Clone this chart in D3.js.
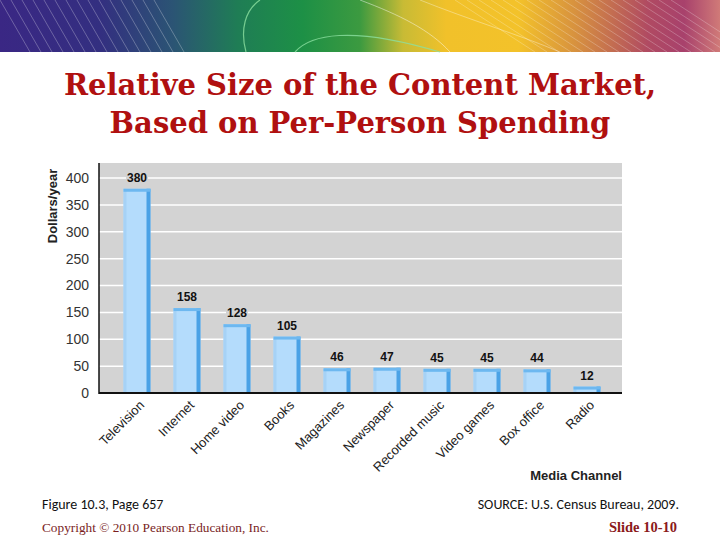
<!DOCTYPE html>
<html>
<head>
<meta charset="utf-8">
<script src="https://cdn.jsdelivr.net/npm/d3@7"></script>
<style>
  html, body { margin: 0; padding: 0; background: #fff; }
  svg { display: block; }
</style>
</head>
<body>
<svg id="chart" width="720" height="540"></svg>
<script>
const categories = ["Television", "Internet", "Home video", "Books", "Magazines",
  "Newspaper", "Recorded music", "Video games", "Box office", "Radio"];
const values = [380, 158, 128, 105, 46, 47, 45, 45, 44, 12];
const yTicks = [0, 50, 100, 150, 200, 250, 300, 350, 400];
const titleLines = ["Relative Size of the Content Market,", "Based on Per-Person Spending"];

const svg = d3.select("#chart");

// ---- decorative banner ----
const defs = svg.append("defs");
const grad = defs.append("linearGradient").attr("id", "banner").attr("x1", 0).attr("x2", 1).attr("y1", 0).attr("y2", 0);
[[0, "#3a2784"], [0.14, "#332f80"], [0.24, "#2b5474"], [0.33, "#1f7d55"], [0.42, "#1d9046"],
 [0.5, "#3c9a40"], [0.56, "#c8bb35"], [0.62, "#f1c12a"], [0.72, "#f3c22a"], [0.8, "#d7913f"],
 [0.9, "#b04a62"], [0.95, "#a8416c"], [1, "#d07a78"]].forEach(([o, c]) =>
  grad.append("stop").attr("offset", o).attr("stop-color", c));
svg.append("rect").attr("x", 0).attr("y", 0).attr("width", 720).attr("height", 52).attr("fill", "url(#banner)");
const deco = svg.append("g").attr("stroke", "#ffffff").attr("fill", "none");
d3.range(0, 160, 11).forEach(x0 => {
  deco.append("line").attr("x1", x0).attr("y1", 0).attr("x2", x0 + 30).attr("y2", 52)
    .attr("stroke-opacity", 0.35).attr("stroke-width", 0.8);
});
d3.range(515, 740, 12).forEach(x0 => {
  deco.append("line").attr("x1", x0 - 60).attr("y1", 0).attr("x2", x0 + 20).attr("y2", 52)
    .attr("stroke-opacity", 0.3).attr("stroke-width", 0.8);
});
deco.append("path").attr("d", "M295,52 C310,35 350,25 440,52").attr("stroke", "#8ce0a0").attr("stroke-opacity", 0.8).attr("stroke-width", 1.2);
deco.append("path").attr("d", "M246,52 C240,30 245,10 260,0").attr("stroke", "#8ce0a0").attr("stroke-opacity", 0.8).attr("stroke-width", 1.2);
deco.append("path").attr("d", "M360,0 C400,15 430,30 450,52").attr("stroke-opacity", 0.45);
deco.append("path").attr("d", "M420,0 C470,20 520,35 560,52").attr("stroke-opacity", 0.35);

// ---- title ----
svg.append("g").selectAll("text").data(titleLines).join("text")
  .attr("x", 360).attr("y", (d, i) => 95 + i * 38)
  .attr("text-anchor", "middle")
  .attr("font-family", "DejaVu Serif, serif").attr("font-weight", "bold")
  .attr("font-size", 29).attr("fill", "#b01010")
  .text(d => d);

// ---- chart ----
const plot = { left: 99, right: 622, top: 163, bottom: 393 };
const x = d3.scaleBand().domain(categories).range([112, 612]).paddingInner(0.46).paddingOuter(0.23);
const y = d3.scaleLinear().domain([0, 400]).range([plot.bottom, 178]);

svg.append("rect").attr("x", plot.left).attr("y", plot.top)
  .attr("width", plot.right - plot.left).attr("height", plot.bottom - plot.top)
  .attr("fill", "#d3d3d3");

// gridlines
svg.append("g").selectAll("line").data(yTicks.filter(d => d > 0)).join("line")
  .attr("x1", plot.left).attr("x2", plot.right)
  .attr("y1", d => y(d)).attr("y2", d => y(d))
  .attr("stroke", "#ffffff").attr("stroke-width", 1.5);

// y-axis
const yAxis = svg.append("g").attr("transform", `translate(${plot.left},0)`)
  .call(d3.axisLeft(y).tickValues(yTicks).tickSize(0).tickPadding(9));
yAxis.select(".domain").remove();
yAxis.selectAll("text").attr("font-family", "Liberation Sans, Arial, sans-serif")
  .attr("font-size", 14).attr("fill", "#333").attr("x", -10);

// bars
const bars = svg.append("g").selectAll("g").data(categories).join("g");
bars.append("rect")
  .attr("x", d => x(d)).attr("y", (d, i) => y(values[i]))
  .attr("width", x.bandwidth()).attr("height", (d, i) => y(0) - y(values[i]))
  .attr("fill", "#b4dcfc");
bars.append("rect")
  .attr("x", d => x(d)).attr("y", (d, i) => y(values[i]))
  .attr("width", 3).attr("height", (d, i) => y(0) - y(values[i]))
  .attr("fill", "#a6d2f6");
bars.append("rect")
  .attr("x", d => x(d) + x.bandwidth() - 4).attr("y", (d, i) => y(values[i]))
  .attr("width", 4).attr("height", (d, i) => y(0) - y(values[i]))
  .attr("fill", "#4aa2e6");
bars.append("rect")
  .attr("x", d => x(d)).attr("y", (d, i) => y(values[i]))
  .attr("width", x.bandwidth()).attr("height", (d, i) => Math.min(3, y(0) - y(values[i])))
  .attr("fill", "#6db8f0");

// value labels with plot-colored backing
const lbl = svg.append("g").selectAll("g").data(categories).join("g")
  .attr("transform", (d, i) => `translate(${x(d) + x.bandwidth() / 2},${y(values[i]) - 7})`);
lbl.append("rect").attr("x", -11).attr("y", -12).attr("width", 22).attr("height", 14).attr("fill", "#d3d3d3");
lbl.append("text").attr("text-anchor", "middle")
  .attr("font-family", "Liberation Sans, Arial, sans-serif").attr("font-weight", "bold")
  .attr("font-size", 12).attr("fill", "#111")
  .text((d, i) => values[i]);

// axes lines
svg.append("line").attr("x1", plot.left).attr("x2", plot.left).attr("y1", plot.top).attr("y2", plot.bottom + 1)
  .attr("stroke", "#111").attr("stroke-width", 1.5);
svg.append("line").attr("x1", plot.left).attr("x2", plot.right).attr("y1", plot.bottom).attr("y2", plot.bottom)
  .attr("stroke", "#111").attr("stroke-width", 2);

// x-axis labels
const xAxis = svg.append("g").attr("transform", `translate(0,${plot.bottom})`)
  .call(d3.axisBottom(x).tickSize(0).tickPadding(0));
xAxis.select(".domain").remove();
xAxis.selectAll("text")
  .attr("font-family", "Liberation Sans, Arial, sans-serif").attr("font-size", 13).attr("fill", "#222")
  .attr("text-anchor", "end").attr("dy", 0).attr("y", 0)
  .attr("transform", "translate(8,13) rotate(-45)");

// axis titles
svg.append("text").attr("transform", `translate(57,206) rotate(-90)`)
  .attr("text-anchor", "middle")
  .attr("font-family", "Liberation Sans, Arial, sans-serif").attr("font-weight", "bold")
  .attr("font-size", 13).attr("fill", "#222").text("Dollars/year");
svg.append("text").attr("x", 622).attr("y", 480).attr("text-anchor", "end")
  .attr("font-family", "Liberation Sans, Arial, sans-serif").attr("font-weight", "bold")
  .attr("font-size", 13).attr("fill", "#222").text("Media Channel");

// ---- footer ----
const sans = "Carlito, Calibri, 'Open Sans', 'Liberation Sans Narrow', sans-serif";
svg.append("text").attr("x", 42).attr("y", 509).attr("font-family", sans)
  .attr("font-size", 14).attr("fill", "#111").text("Figure 10.3, Page 657");
svg.append("text").attr("x", 679).attr("y", 509).attr("text-anchor", "end").attr("font-family", sans)
  .attr("font-size", 14).attr("fill", "#111").text("SOURCE: U.S. Census Bureau, 2009.");
svg.append("text").attr("x", 42).attr("y", 532).attr("font-family", "Liberation Serif, serif")
  .attr("font-size", 13.3).attr("fill", "#7a1e1e").text("Copyright © 2010 Pearson Education, Inc.");
svg.append("text").attr("x", 677).attr("y", 532).attr("text-anchor", "end").attr("font-family", "Liberation Serif, serif")
  .attr("font-weight", "bold").attr("font-size", 14.5).attr("fill", "#8b1a1a").text("Slide 10-10");
</script>
</body>
</html>
